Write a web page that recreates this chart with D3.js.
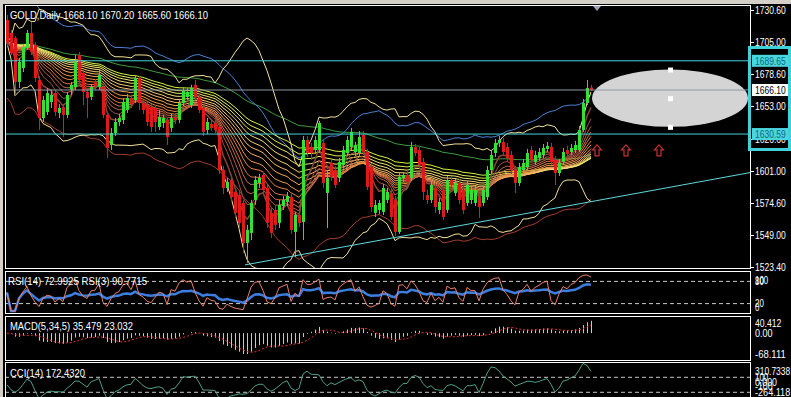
<!DOCTYPE html>
<html>
<head>
<meta charset="utf-8">
<script src="https://cdn.jsdelivr.net/npm/d3@7"></script>
<style>
    body { margin: 0; background: #000; overflow: hidden; }
    text { font-family: "Liberation Sans", Arial, sans-serif; font-size: 11px; fill: #fff; }
</style>
</head>
<body>
<div id="chart"></div>
<script>
(function() {
    // daily candles, [open, high, low, close]
    var candles = [
        [1722.5,1726.6,1701.6,1704.0],[1712.1,1714.5,1694.3,1695.9],[1708.0,1709.6,1662.1,1672.6],[1672.6,1691.9,1667.7,1688.7],
        [1683.8,1703.2,1680.6,1700.8],[1700.0,1714.5,1698.4,1712.1],[1712.1,1720.9,1694.3,1696.7],[1702.4,1704.8,1672.6,1675.8],
        [1674.2,1677.4,1633.9,1643.5],[1643.5,1661.3,1640.3,1658.0],[1648.4,1667.7,1646.0,1663.7],[1656.4,1666.1,1651.6,1662.1],
        [1663.7,1666.1,1645.2,1648.4],[1647.6,1654.8,1643.5,1651.6],[1652.4,1654.8,1628.2,1646.0],[1646.0,1664.5,1643.5,1662.1],
        [1666.1,1672.6,1662.1,1670.2],[1668.5,1694.3,1666.1,1688.7],[1694.3,1696.7,1671.0,1674.2],[1679.8,1682.2,1654.0,1664.5],
        [1664.5,1667.7,1643.5,1659.7],[1660.5,1671.0,1658.0,1668.5],[1672.6,1675.0,1666.1,1669.3],[1668.5,1682.2,1666.1,1678.2],
        [1668.5,1671.0,1643.5,1646.0],[1646.0,1648.4,1611.3,1619.4],[1621.8,1635.5,1617.7,1631.4],[1631.4,1643.5,1629.0,1640.3],
        [1640.3,1646.8,1637.1,1643.5],[1641.9,1659.7,1638.7,1656.4],[1650.0,1662.9,1647.6,1659.7],[1659.7,1662.1,1651.6,1654.8],
        [1658.0,1678.2,1655.6,1675.8],[1675.8,1677.4,1650.0,1655.6],[1655.6,1658.0,1646.8,1650.0],[1654.0,1656.4,1637.1,1640.3],
        [1652.4,1654.8,1632.3,1636.3],[1651.6,1654.0,1632.3,1640.3],[1636.3,1650.0,1633.9,1644.3],[1639.5,1646.0,1635.5,1643.5],
        [1641.9,1644.3,1621.8,1628.2],[1635.5,1646.8,1632.3,1643.5],[1644.3,1647.6,1638.7,1641.9],[1641.9,1658.0,1639.5,1655.6],
        [1655.6,1668.5,1653.2,1666.1],[1660.5,1667.7,1658.0,1664.5],[1654.0,1670.2,1651.6,1667.7],[1670.2,1674.2,1658.0,1660.5],
        [1660.5,1662.9,1647.6,1650.0],[1651.6,1654.0,1629.0,1632.3],[1633.9,1643.5,1630.6,1640.3],[1638.7,1641.9,1633.1,1635.5],
        [1639.5,1641.9,1631.4,1633.9],[1636.3,1638.7,1598.4,1601.6],[1601.6,1604.8,1582.3,1587.1],[1587.1,1595.2,1583.9,1592.0],
        [1593.5,1596.8,1576.6,1579.8],[1583.9,1587.1,1563.0,1567.0],[1581.4,1585.5,1554.9,1558.9],[1575.1,1577.5,1534.8,1542.8],
        [1542.8,1557.4,1526.7,1553.3],[1550.9,1577.5,1545.2,1575.1],[1577.5,1596.8,1573.5,1593.6],[1591.2,1598.4,1587.2,1595.2],
        [1597.6,1600.1,1582.3,1585.6],[1587.2,1589.6,1554.9,1559.0],[1567.0,1571.0,1546.8,1550.9],[1569.4,1573.5,1553.3,1557.4],
        [1559.0,1577.5,1554.9,1573.5],[1572.6,1580.7,1569.4,1577.5],[1575.9,1583.9,1572.6,1580.7],[1579.9,1583.1,1550.1,1553.3],
        [1551.7,1567.8,1531.5,1565.4],[1565.4,1567.8,1555.7,1559.0],[1559.7,1629.0,1545.2,1625.8],[1625.8,1629.0,1612.1,1615.3],
        [1620.2,1623.4,1609.7,1615.3],[1617.7,1629.0,1614.5,1625.8],[1617.7,1641.1,1615.3,1639.5],[1623.4,1625.8,1587.1,1591.1],
        [1583.1,1601.6,1554.9,1595.2],[1607.3,1609.7,1592.7,1596.0],[1601.6,1604.8,1587.1,1589.5],[1595.2,1611.3,1591.9,1608.1],
        [1605.6,1621.0,1603.2,1617.7],[1615.3,1629.0,1612.9,1625.8],[1620.2,1635.5,1617.7,1632.3],[1616.1,1624.2,1612.9,1621.8],
        [1615.3,1633.1,1612.9,1628.2],[1629.8,1633.1,1613.7,1616.1],[1616.1,1618.6,1585.5,1587.9],[1604.0,1607.3,1567.8,1571.8],
        [1567.0,1577.4,1563.7,1573.4],[1569.4,1577.4,1566.2,1575.0],[1567.8,1590.4,1565.3,1587.1],[1577.4,1587.1,1575.0,1583.9],
        [1583.0,1587.1,1561.3,1563.7],[1577.4,1580.6,1548.4,1551.6],[1551.6,1599.2,1550.0,1596.0],[1595.2,1600.0,1592.0,1597.6],
        [1597.6,1601.6,1588.8,1592.0],[1595.2,1624.2,1592.7,1620.2],[1620.2,1622.6,1612.9,1615.3],[1617.7,1621.0,1603.2,1605.6],
        [1608.1,1611.3,1577.4,1583.9],[1581.4,1585.5,1574.2,1577.4],[1577.4,1592.7,1575.0,1589.5],[1587.1,1590.4,1567.0,1571.8],
        [1569.4,1579.0,1566.2,1575.8],[1585.5,1588.8,1561.3,1563.7],[1569.4,1596.8,1567.0,1593.5],[1593.5,1596.8,1587.1,1589.5],
        [1583.0,1594.4,1580.6,1591.1],[1591.1,1594.4,1574.2,1577.4],[1585.5,1588.8,1566.2,1569.4],[1575.0,1592.7,1572.6,1589.5],
        [1577.4,1588.8,1574.2,1585.5],[1575.0,1588.8,1572.6,1585.5],[1579.8,1583.0,1562.9,1571.8],[1575.0,1588.8,1572.6,1585.5],
        [1579.8,1604.8,1577.4,1601.6],[1601.6,1617.0,1598.4,1613.7],[1615.3,1626.6,1612.1,1623.4],[1623.4,1629.0,1620.2,1625.8],
        [1624.2,1627.4,1613.7,1616.1],[1620.2,1623.4,1608.1,1611.3],[1613.7,1617.0,1598.4,1601.6],[1601.6,1604.8,1583.0,1591.1],
        [1591.1,1607.3,1588.8,1604.0],[1601.6,1610.5,1599.2,1607.3],[1604.0,1618.6,1601.6,1615.3],[1617.7,1621.0,1607.3,1609.7],
        [1608.1,1617.0,1605.6,1613.7],[1611.3,1619.4,1608.9,1616.1],[1613.7,1622.6,1611.3,1619.4],[1618.6,1624.2,1616.1,1621.0],
        [1620.2,1623.4,1605.6,1608.1],[1609.7,1612.9,1589.5,1599.2],[1599.2,1610.5,1596.8,1607.3],[1608.1,1619.4,1605.6,1616.1],
        [1617.7,1621.0,1611.3,1614.5],[1616.1,1622.6,1613.7,1619.4],[1617.7,1625.0,1615.3,1621.8],[1617.7,1637.1,1616.1,1633.9],
        [1633.9,1658.9,1632.3,1655.6],[1655.6,1674.2,1654.0,1667.7],[1668.1,1670.2,1665.6,1666.1]
    ];

    var priceTicks = [1730.60, 1705.00, 1678.60, 1653.00, 1626.60, 1601.00, 1574.60, 1549.00, 1523.40];
    var hLevels = [1689.65, 1630.59];
    var bidPrice = 1666.10;
    var trendLine = [[59.5, 1525.1], [185.75, 1599.5]];      // [bar index, price]
    var ellipse = { cx: 165.75, cy: 1659.5, rx: 19.5, top: 1682.6 };
    var arrowBars = [147.5, 154.75, 163];
    var arrowPrice = 1621.8;
    var ribbonPeriods = [5, 8, 11, 14, 17, 21, 25, 30, 35, 40, 46, 52, 58, 65];

    var rsiTicks = ["100", "80", "20", "0"];
    var macdTicks = ["40.412", "0.00", "-68.111"];
    var cciTicks = ["310.7338", "100", "0.000", "-100", "-264.118"];

    var header = "GOLD,Daily  1668.10 1670.20 1665.60 1666.10";
    var rsiLabel = "RSI(14) 72.9925  RSI(3) 90.7715";
    var macdLabel = "MACD(5,34,5) 35.479 23.032";
    var cciLabel = "CCI(14) 172.4320";

    var width = 791, height = 397, right = 750, left = 5;

    var svg = d3.select("#chart").append("svg")
        .attr("width", width)
        .attr("height", height);

    svg.append("rect").attr("width", width).attr("height", height).attr("fill", "#000");

    var panels = {
        main: { top: 5, bottom: 268 },
        rsi: { top: 271, bottom: 313 },
        macd: { top: 316, bottom: 360 },
        cci: { top: 362, bottom: 420 }
    };

    Object.keys(panels).forEach(function(k) {
        var p = panels[k];
        svg.append("clipPath").attr("id", "clip-" + k)
            .append("rect").attr("x", left + 1).attr("y", p.top + 1)
            .attr("width", right - left - 1).attr("height", p.bottom - p.top - 1);
    });

    var xScale = d3.scaleLinear().domain([0, 185.75]).range([7, right]);
    var yScale = d3.scaleLinear().domain([1523.4, 1730.6]).range([267, 10]);
    var rsiScale = d3.scaleLinear().domain([0, 100]).range([311, 274]);
    var macdScale = d3.scaleLinear().domain([-68.111, 40.412]).range([357, 319]);
    var cciScale = d3.scaleLinear().domain([-264.118, 310.7338]).range([404.6, 361.5]);

    // squeeze a text to the narrow terminal font width
    function fit(sel, str, w) {
        return sel.text(str)
            .attr("textLength", w || str.length * 4.4)
            .attr("lengthAdjust", "spacingAndGlyphs");
    }

    // indicator helpers
    var closes = candles.map(function(d) { return d[3]; });

    function ema(a, n) {
        var k = 2 / (n + 1), prev = a[0];
        return a.map(function(v, i) {
            prev = i ? v * k + prev * (1 - k) : v;
            return prev;
        });
    }
    function sma(a, n) {
        return a.map(function(v, i) {
            return d3.mean(a.slice(Math.max(0, i - n + 1), i + 1));
        });
    }
    function bands(a, n, dev) {
        return a.map(function(v, i) {
            var w = a.slice(Math.max(0, i - n + 1), i + 1);
            var m = d3.mean(w);
            var s = Math.sqrt(d3.mean(w, function(x) { return (x - m) * (x - m); }));
            return { up: m + dev * s, mid: m, lo: m - dev * s };
        });
    }
    function rsi(a, n) {
        var g = 0, l = 0, out = [50];
        for (var i = 1; i < a.length; i++) {
            var ch = a[i] - a[i - 1], up = Math.max(ch, 0), dn = Math.max(-ch, 0);
            if (i <= n) { g = (g * (i - 1) + up) / i; l = (l * (i - 1) + dn) / i; }
            else { g = (g * (n - 1) + up) / n; l = (l * (n - 1) + dn) / n; }
            out.push(l === 0 ? 100 : 100 - 100 / (1 + g / l));
        }
        return out;
    }
    function cci(c, n) {
        var tp = c.map(function(d) { return (d[1] + d[2] + d[3]) / 3; });
        return tp.map(function(v, i) {
            var w = tp.slice(Math.max(0, i - n + 1), i + 1);
            var m = d3.mean(w);
            var md = d3.mean(w, function(x) { return Math.abs(x - m); });
            return md ? (v - m) / (0.015 * md) : 0;
        });
    }

    function lineFor(scale) {
        return d3.line()
            .x(function(d, i) { return xScale(i); })
            .y(function(d) { return scale(d); });
    }

    // ---------- main panel ----------
    var main = svg.append("g").attr("clip-path", "url(#clip-main)");
    var priceLine = lineFor(yScale);

    var bb20 = bands(closes, 20, 2.2);
    var env = sma(closes, 20);

    main.append("path").datum(ema(closes, 100))
        .attr("d", priceLine).attr("fill", "none").attr("stroke", "#3f9a3f").attr("stroke-width", 1);

    main.append("path").datum(env.map(function(d) { return d * 1.026; }))
        .attr("d", priceLine).attr("fill", "none").attr("stroke", "#4a7ed0").attr("stroke-width", 1);
    main.append("path").datum(env.map(function(d) { return d * 0.974; }))
        .attr("d", priceLine).attr("fill", "none").attr("stroke", "#a03c2c").attr("stroke-width", 1);

    ["up", "lo"].forEach(function(k) {
        main.append("path").datum(bb20.map(function(d) { return d[k]; }))
            .attr("d", priceLine).attr("fill", "none").attr("stroke", "#f2e29a").attr("stroke-width", 1);
    });

    var ribbonColor = d3.scaleLinear()
        .domain(d3.range(6).map(function(i) { return i / 5; }))
        .range(["#d6f040", "#f5e27c", "#f6b566", "#e8863e", "#c0644c", "#8a4634"]);

    ribbonPeriods.slice().reverse().forEach(function(n, j) {
        var t = 1 - j / (ribbonPeriods.length - 1);
        main.append("path").datum(ema(closes, n))
            .attr("d", priceLine)
            .attr("fill", "none")
            .attr("stroke", ribbonColor(1 - t))
            .attr("stroke-width", n === 5 ? 1.5 : 1);
    });

    // candles
    var bars = main.selectAll(".candle")
        .data(candles)
        .enter().append("g")
        .attr("class", "candle");

    bars.append("line")
        .attr("x1", function(d, i) { return xScale(i) + 0.5; })
        .attr("x2", function(d, i) { return xScale(i) + 0.5; })
        .attr("y1", function(d) { return yScale(d[1]); })
        .attr("y2", function(d) { return yScale(d[2]); })
        .attr("stroke", function(d) { return d[3] >= d[0] ? "#33e033" : "#e01a1a"; });

    bars.append("rect")
        .attr("x", function(d, i) { return xScale(i) - 1; })
        .attr("width", 3)
        .attr("y", function(d) { return yScale(Math.max(d[0], d[3])); })
        .attr("height", function(d) { return Math.max(1, Math.abs(yScale(d[0]) - yScale(d[3]))); })
        .attr("fill", function(d) { return d[3] >= d[0] ? "#33e033" : "#e01a1a"; });

    // levels, trend line, ellipse, arrows
    main.selectAll(".hlevel")
        .data(hLevels)
        .enter().append("line")
        .attr("class", "hlevel")
        .attr("x1", left).attr("x2", right)
        .attr("y1", function(d) { return yScale(d); })
        .attr("y2", function(d) { return yScale(d); })
        .attr("stroke", "#45d4d8").attr("stroke-width", 1);

    main.append("line")
        .attr("x1", xScale(trendLine[0][0])).attr("y1", yScale(trendLine[0][1]))
        .attr("x2", xScale(trendLine[1][0])).attr("y2", yScale(trendLine[1][1]))
        .attr("stroke", "#5fd8dc").attr("stroke-width", 1);

    var ecx = xScale(ellipse.cx), ecy = yScale(ellipse.cy);
    var erx = xScale(ellipse.cx + ellipse.rx) - ecx, ery = ecy - yScale(ellipse.top);
    main.append("ellipse")
        .attr("cx", ecx).attr("cy", ecy).attr("rx", erx).attr("ry", ery)
        .attr("fill", "#d4d4d4");
    main.append("line")
        .attr("x1", left).attr("x2", right)
        .attr("y1", yScale(bidPrice)).attr("y2", yScale(bidPrice))
        .attr("stroke", "#8c9aa6").attr("stroke-width", 1);
    [ecy - ery, ecy, ecy + ery].forEach(function(yy) {
        main.append("rect").attr("x", ecx - 2).attr("y", yy - 2).attr("width", 5).attr("height", 5).attr("fill", "#fff");
    });

    main.selectAll(".arrow")
        .data(arrowBars)
        .enter().append("path")
        .attr("class", "arrow")
        .attr("transform", function(d) { return "translate(" + xScale(d) + "," + yScale(arrowPrice) + ")"; })
        .attr("d", "M0,0 L4.5,5 L2,5 L2,11 L-2,11 L-2,5 L-4.5,5 Z")
        .attr("fill", "none").attr("stroke", "#c83030").attr("stroke-width", 1.2);

    main.append("path")
        .attr("d", "M" + (xScale(arrowBars[0]) - 4) + ",6 L" + (xScale(arrowBars[0]) + 4) + ",6 L" + xScale(arrowBars[0]) + ",11 Z")
        .attr("fill", "#9aa4b8");

    fit(svg.append("text").attr("x", 10).attr("y", 19), header, 198);

    // ---------- RSI ----------
    var rsiG = svg.append("g").attr("clip-path", "url(#clip-rsi)");
    [80, 20].forEach(function(v) {
        rsiG.append("line").attr("x1", left).attr("x2", right)
            .attr("y1", rsiScale(v)).attr("y2", rsiScale(v))
            .attr("stroke", "#c8c8c8").attr("stroke-dasharray", "4,3");
    });
    rsiG.append("path").datum(rsi(closes, 14))
        .attr("d", lineFor(rsiScale)).attr("fill", "none").attr("stroke", "#3d7fe0").attr("stroke-width", 2.5);
    rsiG.append("path").datum(rsi(closes, 3))
        .attr("d", lineFor(rsiScale)).attr("fill", "none").attr("stroke", "#e8806c").attr("stroke-width", 1);
    fit(svg.append("text").attr("x", 8).attr("y", 285), rsiLabel, 139);

    // ---------- MACD ----------
    var macdG = svg.append("g").attr("clip-path", "url(#clip-macd)");
    var e5 = ema(closes, 5), e34 = ema(closes, 34);
    var macd = e5.map(function(v, i) { return v - e34[i]; });
    var signal = sma(macd, 5);
    macdG.selectAll(".hist")
        .data(macd)
        .enter().append("line")
        .attr("class", "hist")
        .attr("x1", function(d, i) { return xScale(i) + 0.5; })
        .attr("x2", function(d, i) { return xScale(i) + 0.5; })
        .attr("y1", macdScale(0))
        .attr("y2", function(d) { return macdScale(d); })
        .attr("stroke", "#c8c8c8");
    macdG.append("path").datum(signal)
        .attr("d", lineFor(macdScale)).attr("fill", "none").attr("stroke", "#e03030").attr("stroke-dasharray", "2,2");
    fit(svg.append("text").attr("x", 10).attr("y", 330), macdLabel, 123);

    // ---------- CCI ----------
    var cciG = svg.append("g").attr("clip-path", "url(#clip-cci)");
    [100, -100].forEach(function(v) {
        cciG.append("line").attr("x1", left).attr("x2", right)
            .attr("y1", cciScale(v)).attr("y2", cciScale(v))
            .attr("stroke", "#c8c8c8").attr("stroke-dasharray", "4,3");
    });
    cciG.append("path").datum(cci(candles, 14))
        .attr("d", lineFor(cciScale)).attr("fill", "none").attr("stroke", "#4e9e88").attr("stroke-width", 1);
    fit(svg.append("text").attr("x", 10).attr("y", 377), cciLabel, 75);

    // ---------- frames ----------
    Object.keys(panels).forEach(function(k) {
        var p = panels[k];
        svg.append("rect").attr("x", left + 0.5).attr("y", p.top + 0.5)
            .attr("width", right - left).attr("height", p.bottom - p.top)
            .attr("fill", "none").attr("stroke", "#fff");
    });

    // window chrome
    svg.append("rect").attr("x", 0).attr("y", 0).attr("width", width).attr("height", 4).attr("fill", "#d4d0c8");
    svg.append("rect").attr("x", 0).attr("y", 0).attr("width", 3).attr("height", height).attr("fill", "#d4d0c8");

    // ---------- right axes ----------
    priceTicks.forEach(function(v) {
        var yy = yScale(v);
        svg.append("line").attr("x1", right).attr("x2", right + 4)
            .attr("y1", Math.round(yy) + 0.5).attr("y2", Math.round(yy) + 0.5).attr("stroke", "#fff");
        fit(svg.append("text").attr("x", right + 5).attr("y", yy).attr("dy", "0.35em"), d3.format(".2f")(v));
    });

    rsiTicks.forEach(function(s) {
        var v = +s;
        fit(svg.append("text").attr("x", right + 5)
            .attr("y", v === 100 ? rsiScale(v) + 6 : v === 0 ? rsiScale(v) - 4 : rsiScale(v))
            .attr("dy", "0.35em"), s);
    });
    macdTicks.forEach(function(s, i) {
        fit(svg.append("text").attr("x", right + 5)
            .attr("y", macdScale(+s) + [4, 0, -3][i])
            .attr("dy", "0.35em"), s);
    });
    cciTicks.forEach(function(s, i) {
        fit(svg.append("text").attr("x", right + 5)
            .attr("y", [371, 377, 382, 386, 392][i])
            .attr("dy", "0.35em"), s);
    });

    // price labels in the cyan box
    var box = svg.append("g");
    hLevels.forEach(function(v) {
        box.append("rect").attr("x", right + 2).attr("y", yScale(v) - 6).attr("width", 38).attr("height", 12).attr("fill", "#49d6dc");
        fit(box.append("text").attr("x", right + 5).attr("y", yScale(v)).attr("dy", "0.35em")
            .style("fill", "#106a78"), d3.format(".2f")(v));
    });
    box.append("rect").attr("x", right + 2).attr("y", yScale(bidPrice) - 6).attr("width", 38).attr("height", 12).attr("fill", "#fff");
    fit(box.append("text").attr("x", right + 5).attr("y", yScale(bidPrice)).attr("dy", "0.35em")
        .style("fill", "#000"), d3.format(".2f")(bidPrice));
    box.append("rect").attr("x", right - 0.5).attr("y", 47.5).attr("width", 40).attr("height", 102)
        .attr("fill", "none").attr("stroke", "#3fd2da").attr("stroke-width", 3);
})();
</script>
</body>
</html>
